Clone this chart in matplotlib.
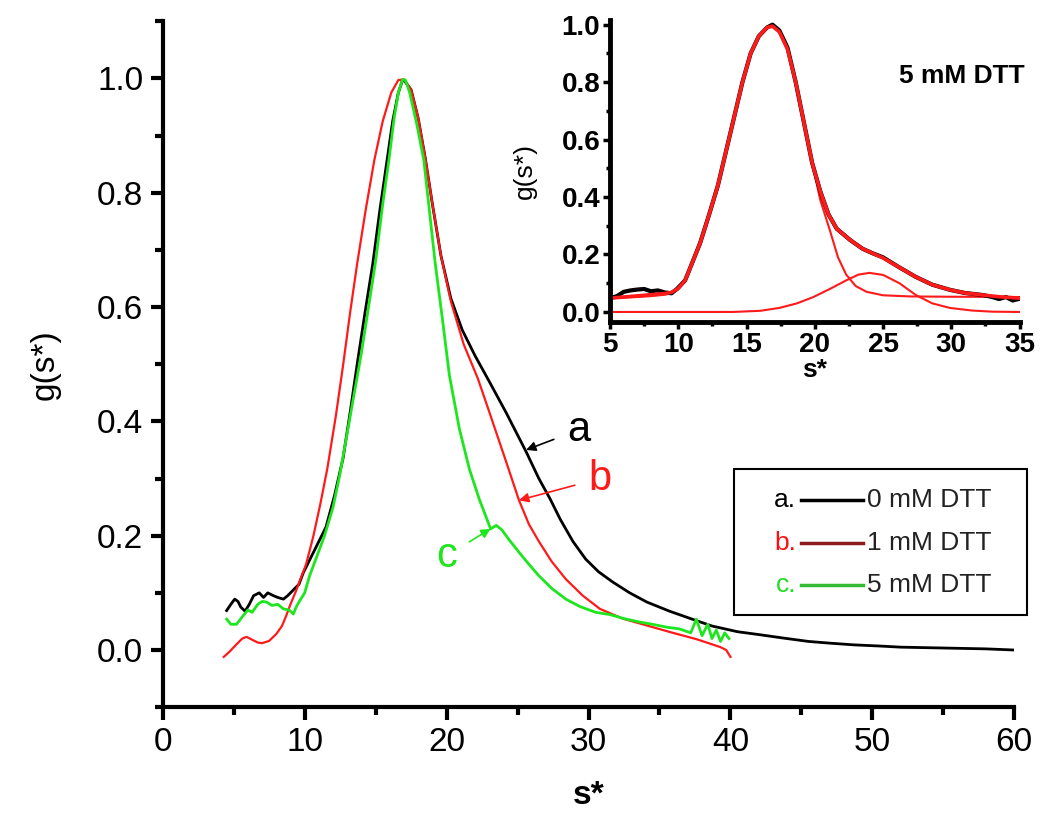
import numpy as np
import matplotlib
matplotlib.use("Agg")
import matplotlib.pyplot as plt
from matplotlib.ticker import MultipleLocator
from matplotlib.lines import Line2D
from matplotlib.patches import Rectangle

plt.rcParams['font.family'] = ['Liberation Sans', 'DejaVu Sans']

# === 主图数据 ===
# a: 0 mM DTT (黑)
s_a = [4.5, 4.8, 5.07, 5.3, 5.5, 5.8, 6.1, 6.4, 6.8, 7.1, 7.4, 7.8, 8.1, 8.5, 8.8, 9.2,
       9.6, 9.9, 10.4, 11.0, 11.5, 12.1, 12.7, 13.2, 13.7, 14.25, 14.8, 15.3, 15.8, 16.2,
       16.6, 16.9, 17.0, 17.5, 18.0, 18.5, 19.0, 19.6, 20.3, 21.1, 22.0, 23.0, 24.2, 25.6,
       26.5, 27.3, 28.0, 28.9, 29.8, 30.7, 31.7, 32.9, 34.1, 35.7, 37.3, 38.7, 40.5, 42.0,
       43.7, 45.5, 47.0, 48.7, 50.5, 52.0, 54.0, 56.0, 58.0, 60.0]
g_a = [0.069, 0.080, 0.089, 0.085, 0.075, 0.068, 0.080, 0.095, 0.100, 0.092, 0.100, 0.095,
       0.092, 0.089, 0.095, 0.105, 0.115, 0.135, 0.160, 0.190, 0.215, 0.270, 0.335, 0.415,
       0.500, 0.590, 0.676, 0.770, 0.856, 0.925, 0.975, 0.997, 0.997, 0.980, 0.930, 0.860,
       0.780, 0.690, 0.615, 0.560, 0.515, 0.470, 0.415, 0.347, 0.300, 0.264, 0.229, 0.190,
       0.159, 0.137, 0.119, 0.100, 0.084, 0.068, 0.054, 0.042, 0.032, 0.027, 0.021, 0.015,
       0.012, 0.009, 0.007, 0.005, 0.004, 0.003, 0.002, 0.000]

# b: 1 mM DTT (红)
s_b = [4.3, 4.7, 5.2, 5.6, 5.9, 6.3, 6.7, 7.0, 7.5, 8.0, 8.4, 8.7, 9.0, 9.4, 10.1, 10.6,
       11.1, 11.6, 12.2, 12.7, 13.2, 13.7, 14.3, 14.9, 15.5, 16.1, 16.6, 17.0, 17.5, 18.0,
       18.5, 19.0, 19.6, 20.3, 21.2, 22.2, 23.0, 24.2, 25.1, 25.8, 26.5, 27.4, 28.4, 29.6,
       30.8, 32.4, 34.1, 35.8, 37.6, 38.7, 39.3, 39.7, 40.0]
g_b = [-0.012, -0.003, 0.010, 0.020, 0.023, 0.018, 0.013, 0.012, 0.016, 0.028, 0.042, 0.060,
       0.080, 0.104, 0.150, 0.198, 0.255, 0.318, 0.410, 0.497, 0.590, 0.676, 0.770, 0.856,
       0.925, 0.975, 0.997, 0.998, 0.980, 0.930, 0.860, 0.780, 0.690, 0.610, 0.535, 0.475,
       0.417, 0.329, 0.262, 0.220, 0.190, 0.155, 0.124, 0.095, 0.072, 0.055, 0.043, 0.031,
       0.019, 0.010, 0.005, 0.000, -0.012]

# c: 5 mM DTT (绿)
s_c = [4.5, 4.8, 5.2, 5.6, 6.0, 6.3, 6.7, 7.0, 7.3, 7.7, 8.1, 8.5, 8.9, 9.2, 9.4, 9.6,
       10.0, 10.35, 10.8, 11.4, 12.0, 12.5, 13.0, 13.5, 14.0, 14.5, 15.0, 15.5, 15.95, 16.3,
       16.6, 16.9, 17.1, 17.4, 17.9, 18.4, 19.2, 19.7, 20.2, 20.9, 21.6, 22.3, 23.1, 23.5,
       23.9, 24.4, 25.1, 25.8, 26.5, 27.4, 28.4, 29.4, 30.5, 31.5, 32.5, 33.6, 34.5, 35.5,
       36.4, 37.2, 37.6, 38.0, 38.4, 38.7, 39.0, 39.3, 39.6, 39.9]
g_c = [0.054, 0.045, 0.045, 0.058, 0.070, 0.066, 0.080, 0.085, 0.084, 0.078, 0.080, 0.072,
       0.070, 0.063, 0.075, 0.084, 0.100, 0.130, 0.160, 0.200, 0.250, 0.310, 0.380, 0.450,
       0.520, 0.600, 0.680, 0.780, 0.860, 0.930, 0.975, 0.998, 0.997, 0.975, 0.920, 0.856,
       0.676, 0.580, 0.480, 0.387, 0.317, 0.264, 0.212, 0.218, 0.210, 0.193, 0.171, 0.150,
       0.130, 0.108, 0.089, 0.076, 0.066, 0.062, 0.055, 0.049, 0.045, 0.040, 0.037, 0.030,
       0.054, 0.025, 0.045, 0.020, 0.035, 0.015, 0.030, 0.020]

# === 插图数据 (5 mM DTT 拟合) ===
s_data = [5.0, 5.5, 6.0, 6.5, 7.0, 7.5, 8.0, 8.5, 9.0, 9.5, 9.9, 10.5, 10.9, 11.6, 12.2,
          12.9, 13.5, 14.1, 14.7, 15.3, 15.9, 16.5, 16.9, 17.4, 18.0, 18.6, 19.2, 19.8,
          20.4, 21.0, 21.6, 22.6, 23.5, 24.2, 25.0, 26.2, 27.4, 28.6, 29.9, 31.0, 32.3,
          33.0, 33.5, 34.0, 34.5, 35.0]
g_data = [0.048, 0.055, 0.070, 0.075, 0.078, 0.080, 0.072, 0.075, 0.068, 0.065, 0.080, 0.110,
          0.157, 0.240, 0.330, 0.440, 0.560, 0.680, 0.800, 0.900, 0.960, 0.990, 1.000, 0.980,
          0.920, 0.800, 0.660, 0.520, 0.420, 0.340, 0.290, 0.250, 0.220, 0.205, 0.190, 0.155,
          0.122, 0.095, 0.077, 0.066, 0.059, 0.052, 0.045, 0.052, 0.040, 0.046]

s_fit = [5.0, 6.0, 7.0, 8.0, 9.0, 9.5, 10.0, 10.5, 10.9, 11.6, 12.2, 12.9, 13.5, 14.1, 14.7,
         15.3, 15.9, 16.5, 16.9, 17.4, 18.0, 18.6, 19.2, 19.8, 20.4, 21.0, 21.6, 22.6, 23.5,
         24.2, 25.0, 26.2, 27.4, 28.6, 29.9, 31.0, 32.3, 33.5, 35.0]
g_fit = [0.048, 0.052, 0.056, 0.060, 0.064, 0.068, 0.082, 0.110, 0.157, 0.240, 0.330, 0.440,
         0.560, 0.680, 0.800, 0.900, 0.960, 0.990, 0.995, 0.975, 0.915, 0.800, 0.660, 0.520,
         0.420, 0.340, 0.290, 0.250, 0.220, 0.205, 0.188, 0.155, 0.122, 0.095, 0.077, 0.066,
         0.059, 0.053, 0.048]

s_comp1 = [5.0, 6.0, 7.0, 8.0, 9.0, 9.5, 10.0, 10.5, 10.9, 11.6, 12.2, 12.9, 13.5, 14.1,
           14.7, 15.3, 15.9, 16.5, 16.9, 17.4, 18.0, 18.6, 19.2, 19.8, 20.4, 21.1, 21.7,
           22.3, 23.0, 23.8, 25.0, 27.0, 30.0, 35.0]
g_comp1 = [0.048, 0.050, 0.052, 0.055, 0.060, 0.065, 0.080, 0.110, 0.157, 0.240, 0.330,
           0.440, 0.560, 0.680, 0.800, 0.900, 0.960, 0.990, 0.995, 0.975, 0.915, 0.800,
           0.660, 0.520, 0.390, 0.285, 0.190, 0.130, 0.090, 0.070, 0.058, 0.054, 0.053, 0.052]

s_comp2 = [5.0, 14.0, 16.0, 17.4, 18.7, 19.9, 21.1, 22.3, 23.2, 24.0, 25.0, 26.2, 27.4,
           28.6, 29.9, 31.5, 33.0, 35.0]
g_comp2 = [0.000, 0.000, 0.004, 0.014, 0.030, 0.052, 0.080, 0.110, 0.130, 0.136, 0.129,
           0.100, 0.059, 0.030, 0.014, 0.005, 0.001, 0.000]

legend_letters = ['a.', 'b.', 'c.']
legend_labels = ['0 mM DTT', '1 mM DTT', '5 mM DTT']
letter_colors = ['black', '#ff1010', '#22dd22']
line_colors = ['black', '#8b1a1a', '#33bb33']

GREEN = '#1ee61e'
RED = '#ff1a1a'

fig = plt.figure(figsize=(10.5, 8.31), dpi=100)

# === 主图 ===
ax = fig.add_axes([0.155, 0.149, 0.811, 0.8255])
ax.plot(s_a, g_a, color='black', lw=2.0)
ax.plot(s_b, g_b, color=RED, lw=1.6)
ax.plot(s_c, g_c, color=GREEN, lw=2.0)

ax.set_xlim(0, 60)
ax.set_ylim(-0.1, 1.1)
ax.xaxis.set_major_locator(MultipleLocator(10))
ax.xaxis.set_minor_locator(MultipleLocator(5))
ax.yaxis.set_major_locator(MultipleLocator(0.2))
ax.yaxis.set_minor_locator(MultipleLocator(0.1))
ax.yaxis.set_major_formatter(plt.FuncFormatter(lambda v, p: f"{v:.1f}"))
for side in ['top', 'right']:
    ax.spines[side].set_visible(False)
for side in ['left', 'bottom']:
    ax.spines[side].set_linewidth(3)
ax.tick_params(which='major', direction='out', length=9, width=3, labelsize=24, pad=5)
ax.tick_params(which='minor', direction='out', length=6, width=3)
ax.set_xlabel('s*', fontsize=24, fontweight='bold', labelpad=16)
ax.set_ylabel('g(s*)', fontsize=24, labelpad=26)

# 注释箭头
ax.annotate('a', xy=(25.6, 0.35), xytext=(29.3, 0.385), fontsize=30, color='black',
            ha='center', va='center',
            arrowprops=dict(arrowstyle='-|>', color='black', lw=1.2, mutation_scale=14,
                            shrinkA=8, shrinkB=0))
ax.annotate('b', xy=(25.1, 0.262), xytext=(30.8, 0.30), fontsize=30, color=RED,
            ha='center', va='center',
            arrowprops=dict(arrowstyle='-|>', color=RED, lw=1.2, mutation_scale=14,
                            shrinkA=8, shrinkB=0))
ax.annotate('c', xy=(23.1, 0.212), xytext=(20.0, 0.165), fontsize=30, color=GREEN,
            ha='center', va='center',
            arrowprops=dict(arrowstyle='-|>', color=GREEN, lw=1.2, mutation_scale=14,
                            shrinkA=8, shrinkB=0))

# 图例 (手工绘制)
ax.add_patch(Rectangle((0.671, 0.134), 0.344, 0.213, transform=ax.transAxes,
                       fill=False, edgecolor='black', lw=1.5, clip_on=False))
rows_y = [0.302, 0.239, 0.178]
for yy, let, lab, lc, lnc in zip(rows_y, legend_letters, legend_labels, letter_colors, line_colors):
    ax.text(0.744, yy, let, transform=ax.transAxes, fontsize=19, color=lc,
            ha='right', va='center')
    ax.add_line(Line2D([0.750, 0.822], [yy, yy], transform=ax.transAxes,
                       color=lnc, lw=2.5, clip_on=False))
    ax.text(0.827, yy, lab, transform=ax.transAxes, fontsize=19, color='#222222',
            ha='left', va='center')

# === 插图 ===
ins = fig.add_axes([0.581, 0.6125, 0.390, 0.363])
ins.plot(s_comp2, g_comp2, color=RED, lw=1.5)
ins.plot(s_comp1, g_comp1, color=RED, lw=1.5)
ins.plot(s_data, g_data, color='black', lw=3.0)
ins.plot(s_fit, g_fit, color=RED, lw=2.6)
ins.set_xlim(5, 35)
ins.set_ylim(-0.035, 1.015)
ins.xaxis.set_major_locator(MultipleLocator(5))
ins.xaxis.set_minor_locator(MultipleLocator(2.5))
ins.yaxis.set_major_locator(MultipleLocator(0.2))
ins.yaxis.set_minor_locator(MultipleLocator(0.1))
ins.yaxis.set_major_formatter(plt.FuncFormatter(lambda v, p: f"{v:.1f}"))
ins.patch.set_alpha(0)
for side in ['top', 'right']:
    ins.spines[side].set_visible(False)
for side in ['left', 'bottom']:
    ins.spines[side].set_linewidth(3.5)
ins.tick_params(which='major', direction='out', length=5, width=2.5, labelsize=20, pad=2)
ins.tick_params(which='minor', direction='out', length=3, width=2.5)
for lbl in ins.get_xticklabels() + ins.get_yticklabels():
    lbl.set_fontweight('bold')
ins.set_xlabel('s*', fontsize=19, fontweight='bold', labelpad=0)
ins.set_ylabel('g(s*)', fontsize=19, labelpad=18)
ins.text(35.4, 0.82, '5 mM DTT', fontsize=19, fontweight='bold', ha='right', va='center')

fig.savefig('out.png', dpi=100)
